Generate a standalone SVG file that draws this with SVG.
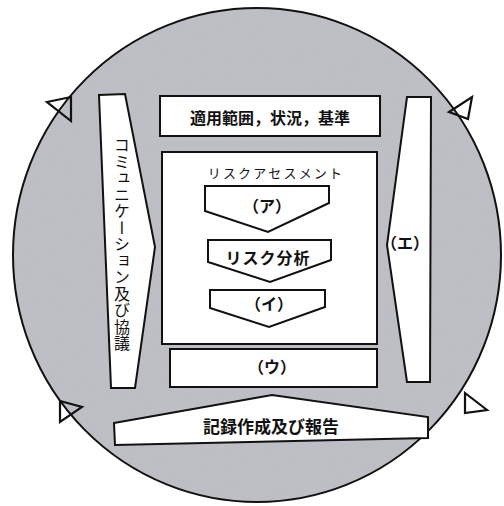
<svg xmlns="http://www.w3.org/2000/svg" width="504" height="506" viewBox="0 0 504 506">
<style>
.box{fill:#fff;stroke:#111;stroke-width:2;stroke-linejoin:miter}
.t{font-family:"Noto Sans CJK JP","Noto Sans",sans-serif;fill:#111;text-anchor:middle;dominant-baseline:central}
.arr{fill:none;stroke:#111;stroke-width:2.2;stroke-linejoin:miter}
</style>
<defs>
<filter id="grain" x="0" y="0" width="100%" height="100%">
<feTurbulence type="fractalNoise" baseFrequency="0.9" numOctaves="2" seed="3" result="n"/>
<feColorMatrix in="n" type="matrix" values="0 0 0 0 0.55  0 0 0 0 0.56  0 0 0 0 0.6  0 0 0 -1.2 1.1" result="g"/>
<feComposite in="g" in2="SourceGraphic" operator="in"/>
</filter>
</defs>
<rect width="504" height="506" fill="#fff"/>
<g id="cycle">
<ellipse cx="257" cy="255" rx="244" ry="247" fill="#babcc2"/>
<ellipse cx="257" cy="255" rx="244" ry="247" fill="#babcc2" filter="url(#grain)" opacity="0.6"/>
<ellipse cx="257" cy="255" rx="244" ry="247" fill="none" stroke="#111" stroke-width="2"/>
</g>
<g id="connectors">
<polygon class="arr" points="47,102 71,97 71,121"/>
<polygon class="arr" points="449,112 472,97 468,119"/>
<polygon class="arr" points="60,401 82,407 60,422"/>
<polygon class="arr" points="465,393 487,410 465,413"/>
</g>
<g id="communication">
<polygon class="box" points="99,95 125,94 155,247 135,388 111,388"/>
<text class="t" x="122" y="137" font-size="16" style="writing-mode:vertical-rl;text-orientation:upright;text-anchor:start;dominant-baseline:auto" letter-spacing="0.5">コミュニケーション及び協議</text>
</g>
<g id="scope">
<rect class="box" x="160" y="96" width="220" height="40"/>
<text class="t" x="270" y="117" font-size="16" font-weight="700">適用範囲，状況，基準</text>
</g>
<g id="assessment">
<rect class="box" x="162" y="152" width="215" height="192"/>
<text class="t" x="276" y="172" font-size="13" letter-spacing="2.2">リスクアセスメント</text>
</g>
<g id="a">
<polygon class="box" points="205,186 329,186 329,203 268,232 205,211"/>
<text class="t" x="267" y="205" font-size="16" font-weight="700">（ア）</text>
</g>
<g id="analysis">
<polygon class="box" points="208,240 331,240 331,260 270,282 208,262"/>
<text class="t" x="268" y="257" font-size="16" font-weight="700" letter-spacing="1">リスク分析</text>
</g>
<g id="i">
<polygon class="box" points="210,290 325,290 325,307 269,327 210,308"/>
<text class="t" x="269" y="303" font-size="16" font-weight="700">（イ）</text>
</g>
<g id="u">
<rect class="box" x="170" y="349" width="207" height="38"/>
<text class="t" x="272" y="366" font-size="16" font-weight="700">（ウ）</text>
</g>
<g id="e">
<polygon class="box" points="407,97 431,97 430,382 407,382 387,245"/>
<text class="t" x="405" y="242" font-size="16" font-weight="700">（エ）</text>
</g>
<g id="record">
<polygon class="box" points="114,423 272,395 428,417 428,438 115,445"/>
<text class="t" x="271" y="425" font-size="17" font-weight="700">記録作成及び報告</text>
</g>
</svg>
